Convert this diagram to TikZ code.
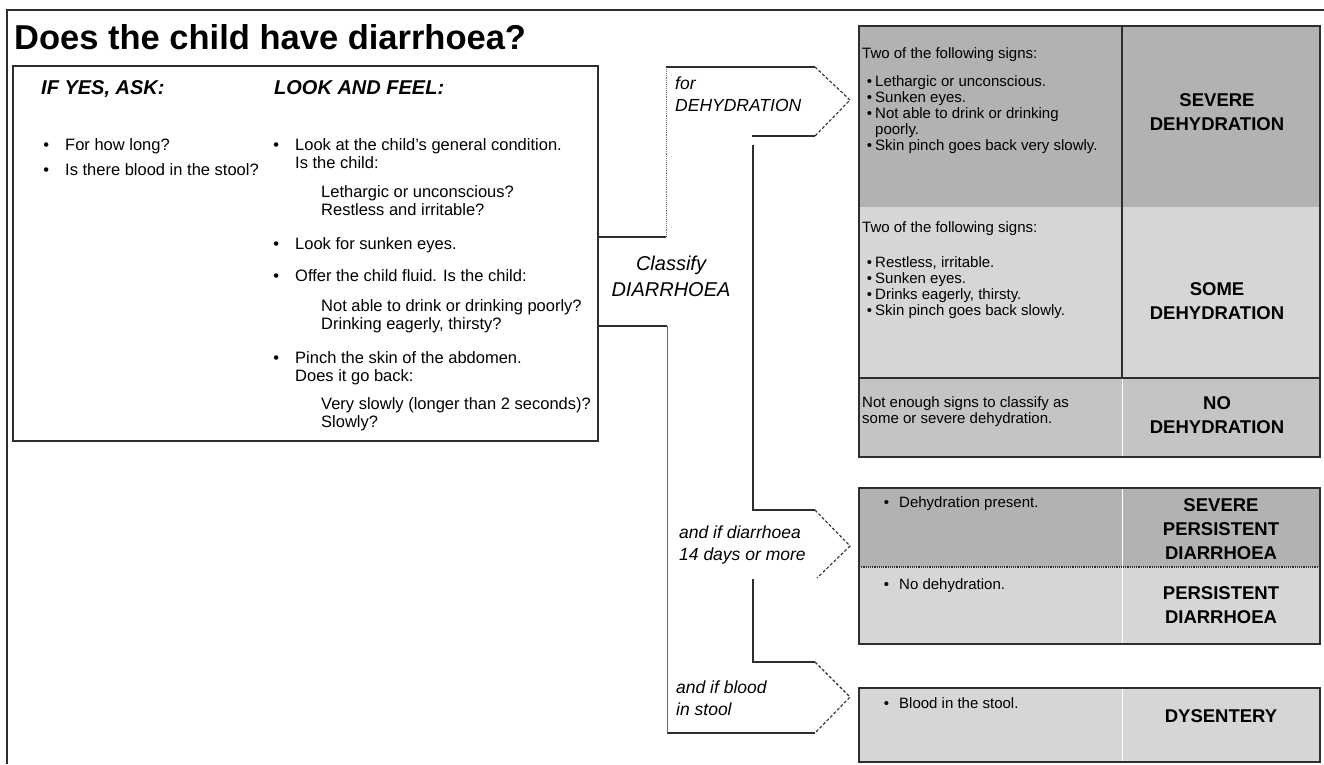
\documentclass[tikz,border=0pt]{standalone}
\usepackage{fontspec}
\setmainfont{Liberation Sans}

\definecolor{severegrey}{gray}{0.70}
\definecolor{somegrey}{gray}{0.84}
\definecolor{nogrey}{gray}{0.77}
\definecolor{inkgrey}{gray}{0.18}

\newcommand{\itm}{\llap{\textbullet\hspace{16pt}}}
\newcommand{\sitm}{\llap{\textbullet\hspace{3pt}}}
\newcommand{\pitm}{\llap{\textbullet\hspace{10pt}}}

\begin{document}
\begin{tikzpicture}[
    x = 1pt, y = -1pt,
    outline/.style = {
      draw = inkgrey,
      line width = 1.5pt,
    },
    body/.style = {
      inner sep = 0,
      anchor = north west,
      align = left,
      font = \fontsize{16.5}{18}\selectfont,
    },
    heading/.style = {
      inner sep = 0,
      anchor = north west,
      font = \fontsize{20}{24}\selectfont\bfseries\itshape,
    },
    signs/.style = {
      inner sep = 0,
      anchor = north west,
      align = left,
      font = \fontsize{15}{16}\selectfont,
    },
    grade/.style = {
      inner sep = 0,
      align = center,
      font = \fontsize{18.5}{24}\selectfont\bfseries,
    },
    pointer/.style = {
      inner sep = 0,
      anchor = north west,
      align = left,
      font = \fontsize{17.5}{22}\selectfont\itshape,
    },
    bracket/.style = {
      draw = inkgrey,
      line width = 1.1pt,
    },
    tipline/.style = {
      draw = inkgrey,
      line width = 1.1pt,
      densely dashed,
    },
    rule/.style = {
      draw = inkgrey,
      line width = 1.3pt,
    },
    faint/.style = {
      draw = white,
      line width = 1pt,
    },
  ]
  \useasboundingbox (0,0) rectangle (1324,764);

  % page frame and title
  \draw[draw = inkgrey, line width = 1.3pt] (7,764) -- (7,10) -- (1324,10);
  \node[inner sep = 0, anchor = north west, font = \fontsize{34.5}{40}\selectfont\bfseries]
    (title) at (14,24) {Does the child have diarrhoea?};

  % assessment box
  \draw[outline] (13,66) rectangle (598,441);
  \node[heading] (ask) at (41,80) {IF YES, ASK:};
  \node[heading] (look) at (274,80) {LOOK AND FEEL:};

  \node[body] (howlong) at (65,138) {\itm For how long?};
  \node[body] (blood) at (65,163) {\itm Is there blood in the stool?};

  \node[body] (general) at (295,138) {\itm Look at the child's general condition.\\Is the child:};
  \node[body] (lethargic) at (321,185) {Lethargic or unconscious?\\Restless and irritable?};
  \node[body] (sunken) at (295,237) {\itm Look for sunken eyes.};
  \node[body] (fluid) at (295,269) {\itm Offer the child fluid. Is the child:};
  \node[body] (notable) at (321,299) {Not able to drink or drinking poorly?\\Drinking eagerly, thirsty?};
  \node[body] (pinch) at (295,351) {\itm Pinch the skin of the abdomen.\\Does it go back:};
  \node[body] (veryslow) at (321,397) {Very slowly (longer than 2 seconds)?\\Slowly?};

  % classify bracket with its three pointers
  \draw[bracket] (598,237) -- (666,237);
  \draw[draw = black!55, line width = 0.9pt, densely dotted] (666,237) -- (666,67);
  \draw[bracket] (666,67) -- (815,67);
  \draw[tipline] (815,67) -- (850,100) -- (815,136);
  \draw[bracket] (815,136) -- (752,136);
  \draw[bracket] (753,145) -- (753,510) -- (815,510);
  \draw[tipline] (815,510) -- (850,546) -- (817,578);
  \draw[bracket] (753,579) -- (753,662) -- (815,662);
  \draw[tipline] (815,662) -- (850,697) -- (815,733);
  \draw[bracket] (815,733) -- (667,733);
  \draw[draw = black!60, line width = 0.9pt] (667,733) -- (667,326);
  \draw[bracket] (667,326) -- (598,326);

  \node[pointer] (fordehyd) at (675,77) {for\\DEHYDRATION};
  \node[inner sep = 0, align = center, font = \fontsize{20}{26}\selectfont\itshape]
    (classify) at (671,276) {Classify\\DIARRHOEA};
  \node[pointer] (longdiarr) at (679,526) {and if diarrhoea\\14 days or more};
  \node[pointer] (stoolblood) at (676,681) {and if blood\\in stool};

  % dehydration table
  \fill[severegrey] (859,26) rectangle (1320,207);
  \fill[somegrey] (859,207) rectangle (1320,378);
  \fill[nogrey] (859,378) rectangle (1320,457);
  \draw[rule] (1122,26) -- (1122,378);
  \draw[rule] (859,378) -- (1320,378);
  \draw[faint] (1122,379) -- (1122,456);
  \draw[outline] (859,26) rectangle (1320,457);

  \node[signs] (sevhead) at (862,47) {Two of the following signs:};
  \node[signs] (sevlist) at (875,75) {\sitm Lethargic or unconscious.\\
    \sitm Sunken eyes.\\
    \sitm Not able to drink or drinking\\poorly.\\
    \sitm Skin pinch goes back very slowly.};
  \node[grade] (severe) at (1217,112.5) {SEVERE\\DEHYDRATION};

  \node[signs] (somehead) at (862,221) {Two of the following signs:};
  \node[signs] (somelist) at (875,256) {\sitm Restless, irritable.\\
    \sitm Sunken eyes.\\
    \sitm Drinks eagerly, thirsty.\\
    \sitm Skin pinch goes back slowly.};
  \node[grade] (some) at (1217,301.5) {SOME\\DEHYDRATION};

  \node[signs] (nohead) at (862,396) {Not enough signs to classify as\\some or severe dehydration.};
  \node[grade] (nodehyd) at (1217,415) {NO\\DEHYDRATION};

  % persistent diarrhoea table
  \fill[severegrey] (859,488) rectangle (1320,567);
  \fill[somegrey] (859,567) rectangle (1320,644);
  \draw[faint] (1122,489) -- (1122,643);
  \draw[draw = inkgrey, line width = 1.2pt, densely dotted] (859,567) -- (1320,567);
  \draw[outline] (859,488) rectangle (1320,644);

  \node[signs] (dehydpres) at (899,496) {\pitm Dehydration present.};
  \node[grade] (sevpers) at (1221,529) {SEVERE\\PERSISTENT\\DIARRHOEA};
  \node[signs] (nodehydpres) at (899,578) {\pitm No dehydration.};
  \node[grade] (pers) at (1221,605.5) {PERSISTENT\\DIARRHOEA};

  % dysentery table
  \fill[somegrey] (859,688) rectangle (1320,762);
  \draw[faint] (1122,689) -- (1122,761);
  \draw[outline] (859,688) rectangle (1320,762);

  \node[signs] (bloodstool) at (899,697) {\pitm Blood in the stool.};
  \node[grade] (dys) at (1221,716) {DYSENTERY};
\end{tikzpicture}
\end{document}
